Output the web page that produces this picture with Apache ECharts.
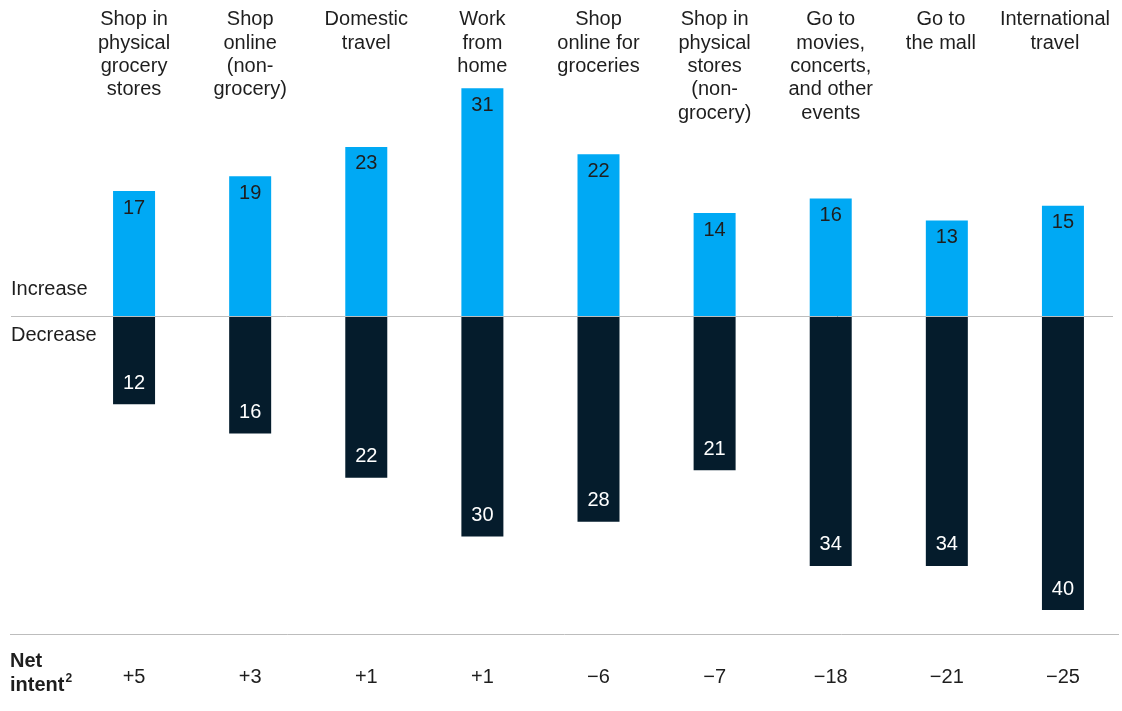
<!DOCTYPE html>
<html>
<head>
<meta charset="utf-8">
<script src="https://cdn.jsdelivr.net/npm/echarts@6/dist/echarts.min.js"></script>
<style>
  html, body { margin: 0; padding: 0; background: #fff; }
  #chart { width: 1122px; height: 711px; }
</style>
</head>
<body>
<div id="chart"></div>
<script>
const categories = [
  'Shop in\nphysical\ngrocery\nstores',
  'Shop\nonline\n(non-\ngrocery)',
  'Domestic\ntravel',
  'Work\nfrom\nhome',
  'Shop\nonline for\ngroceries',
  'Shop in\nphysical\nstores\n(non-\ngrocery)',
  'Go to\nmovies,\nconcerts,\nand other\nevents',
  'Go to\nthe mall',
  'International\ntravel'
];
const increase = [17, 19, 23, 31, 22, 14, 16, 13, 15];
const decrease = [12, 16, 22, 30, 28, 21, 34, 34, 40];
const netIntent = ['+5', '+3', '+1', '+1', '\u22126', '\u22127', '\u221218', '\u221221', '\u221225'];

const FONT = '"Liberation Sans", Arial, sans-serif';
const TEXT = '#1e1e1e';
const BLUE = '#00A9F4';
const NAVY = '#051C2C';
const RULE = '#bdbdbd';

const headerText = { fontSize: 20, lineHeight: 23.4, color: TEXT, fontFamily: FONT };
// the two right-hand headers sit a little left of their bars
const headerRich = {
  h: headerText,
  m: Object.assign({}, headerText, { padding: [0, 12, 0, 0] }),
  t: Object.assign({}, headerText, { padding: [0, 16, 0, 0] })
};
const headerTag = i => (i === 7 ? 'm' : i === 8 ? 't' : 'h');

const chart = echarts.init(document.getElementById('chart'), null, { renderer: 'canvas' });

chart.setOption({
  animation: false,
  textStyle: { fontFamily: FONT },
  grid: {
    left: 76, right: 1, top: 22, bottom: 86.3,
    containLabel: false,
    outerBoundsMode: 'none'
  },
  xAxis: [
    {
      type: 'category',
      position: 'bottom',
      data: categories,
      axisLine: { show: false },
      axisTick: { show: false },
      axisLabel: {
        interval: 0,
        margin: 43,
        fontSize: 20,
        lineHeight: 20,
        color: TEXT,
        fontFamily: FONT,
        hideOverlap: false,
        formatter: (v, i) => netIntent[i]
      }
    },
    {
      type: 'category',
      position: 'top',
      data: categories,
      axisLine: { show: false },
      axisTick: { show: false },
      axisLabel: {
        interval: 0,
        margin: 14,
        verticalAlign: 'top',
        fontSize: 20,
        lineHeight: 23.4,
        color: TEXT,
        fontFamily: FONT,
        hideOverlap: false,
        rich: headerRich,
        formatter: (v, i) => v.split('\n').map(l => '{' + headerTag(i) + '|' + l + '}').join('\n')
      }
    }
  ],
  yAxis: {
    type: 'value',
    min: -42,
    max: 40,
    show: false,
    splitLine: { show: false }
  },
  series: [
    {
      name: 'Increase',
      type: 'bar',
      stack: 'intent',
      barWidth: 42,
      data: increase,
      itemStyle: { color: BLUE },
      label: {
        show: true,
        position: 'insideTop',
        distance: 7,
        fontSize: 20,
        lineHeight: 20,
        color: TEXT,
        fontFamily: FONT
      }
    },
    {
      name: 'Decrease',
      type: 'bar',
      stack: 'intent',
      barWidth: 42,
      data: decrease.map(v => -v),
      itemStyle: { color: NAVY },
      label: {
        show: true,
        position: 'insideBottom',
        distance: 11,
        fontSize: 20,
        lineHeight: 20,
        color: '#ffffff',
        fontFamily: FONT,
        formatter: p => String(-p.value)
      }
    }
  ]
});

// zero rule, row labels and the net-intent divider
const zeroY = Math.round(chart.convertToPixel({ yAxisIndex: 0 }, 0)) + 0.5;
chart.setOption({
  graphic: [
    {
      type: 'line',
      shape: { x1: 11, y1: zeroY, x2: 1113, y2: zeroY },
      style: { stroke: RULE, lineWidth: 1 },
      z: 10
    },
    {
      type: 'line',
      shape: { x1: 10, y1: 634.5, x2: 1119, y2: 634.5 },
      style: { stroke: RULE, lineWidth: 1 }
    },
    {
      type: 'text',
      left: 11,
      top: zeroY - 37,
      style: { text: 'Increase', fontSize: 20, fontFamily: FONT, fill: TEXT }
    },
    {
      type: 'text',
      left: 11,
      top: zeroY + 9,
      style: { text: 'Decrease', fontSize: 20, fontFamily: FONT, fill: TEXT }
    },
    {
      type: 'text',
      left: 10,
      top: 651,
      style: {
        text: '{b|Net}\n{b|intent}{s|2}',
        fontFamily: FONT,
        fill: TEXT,
        rich: {
          b: { fontSize: 20, fontWeight: 'bold', lineHeight: 24, fontFamily: FONT, color: TEXT },
          s: { fontSize: 12, fontWeight: 'bold', lineHeight: 24, verticalAlign: 'top', padding: [0, 0, 8, 1], fontFamily: FONT, color: TEXT }
        }
      }
    }
  ]
});
</script>
</body>
</html>
